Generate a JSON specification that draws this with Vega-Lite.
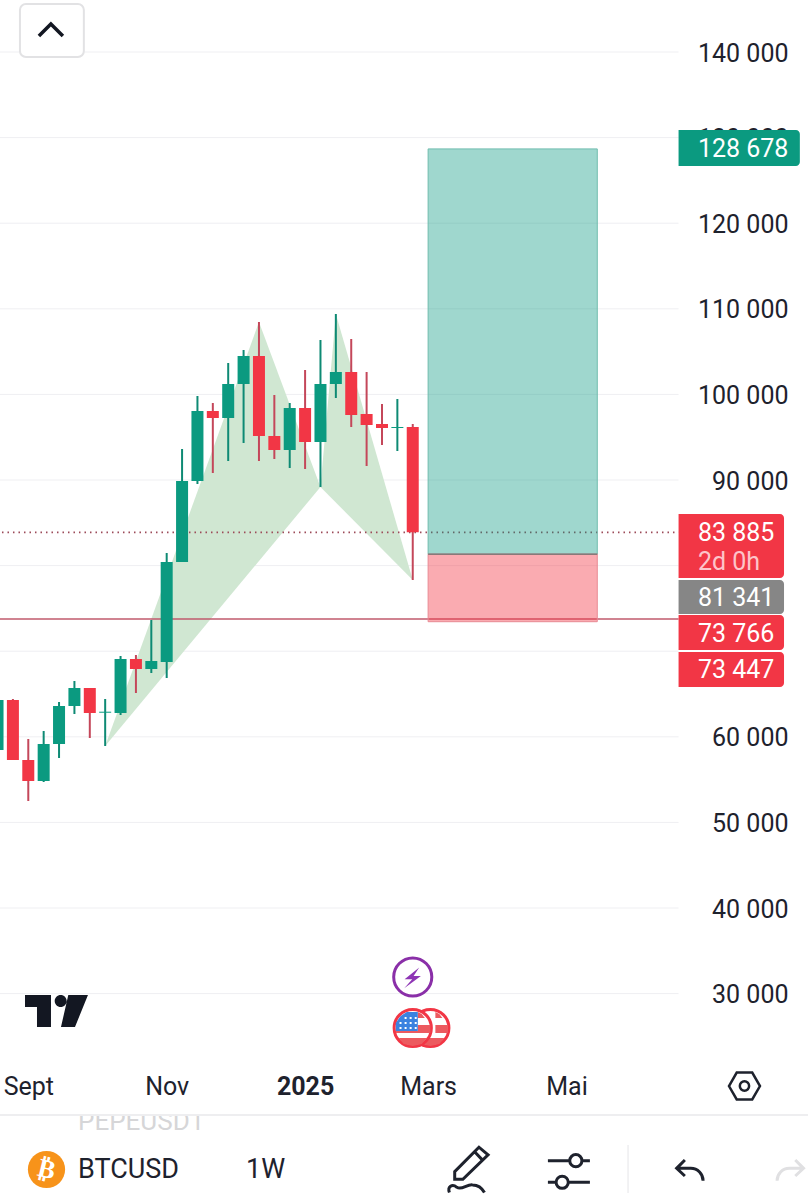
{
  "$schema": "https://vega.github.io/schema/vega-lite/v6.json",
  "width": 808,
  "height": 1200,
  "padding": 0,
  "autosize": "none",
  "background": "white",
  "view": {"stroke": null},
  "config": {"text": {"font": "Roboto"}},
  "datasets": {
    "candles": [
      {"d": "2024-08-19", "open": 58460, "close": 64301, "high": 64500, "low": 57900},
      {"d": "2024-08-26", "open": 64301, "close": 57292, "high": 64418, "low": 57292},
      {"d": "2024-09-02", "open": 57292, "close": 54839, "high": 59745, "low": 52502},
      {"d": "2024-09-09", "open": 54839, "close": 59161, "high": 60680, "low": 54722},
      {"d": "2024-09-16", "open": 59161, "close": 63600, "high": 64067, "low": 57525},
      {"d": "2024-09-23", "open": 63600, "close": 65703, "high": 66521, "low": 62666},
      {"d": "2024-09-30", "open": 65703, "close": 62782, "high": 65703, "low": 59862},
      {"d": "2024-10-07", "open": 62816, "close": 62933, "high": 64418, "low": 58927},
      {"d": "2024-10-14", "open": 62782, "close": 69091, "high": 69441, "low": 62549},
      {"d": "2024-10-21", "open": 69091, "close": 67922, "high": 69558, "low": 65119},
      {"d": "2024-10-28", "open": 67922, "close": 68857, "high": 73647, "low": 67455},
      {"d": "2024-11-04", "open": 68740, "close": 80422, "high": 81474, "low": 66871},
      {"d": "2024-11-11", "open": 80422, "close": 89885, "high": 93623, "low": 80422},
      {"d": "2024-11-18", "open": 89885, "close": 98062, "high": 99814, "low": 89534},
      {"d": "2024-11-25", "open": 98062, "close": 97244, "high": 98997, "low": 90819},
      {"d": "2024-12-02", "open": 97244, "close": 101216, "high": 103669, "low": 92221},
      {"d": "2024-12-09", "open": 101216, "close": 104487, "high": 105188, "low": 94324},
      {"d": "2024-12-16", "open": 104487, "close": 95141, "high": 108459, "low": 92221},
      {"d": "2024-12-23", "open": 95141, "close": 93506, "high": 99931, "low": 92455},
      {"d": "2024-12-30", "open": 93506, "close": 98412, "high": 98997, "low": 91403},
      {"d": "2025-01-06", "open": 98412, "close": 94441, "high": 102852, "low": 91286},
      {"d": "2025-01-13", "open": 94441, "close": 101216, "high": 106356, "low": 89184},
      {"d": "2025-01-20", "open": 101216, "close": 102618, "high": 109394, "low": 99581},
      {"d": "2025-01-27", "open": 102618, "close": 97595, "high": 106473, "low": 96193},
      {"d": "2025-02-03", "open": 97712, "close": 96426, "high": 102618, "low": 91637},
      {"d": "2025-02-10", "open": 96543, "close": 96076, "high": 98880, "low": 94090},
      {"d": "2025-02-17", "open": 96076, "close": 96193, "high": 99464, "low": 93389},
      {"d": "2025-02-24", "open": 96193, "close": 83885, "high": 96543, "low": 78319}
    ],
    "pattern": [
      {"leg": "XAB", "seq": 1, "d": "2024-10-07", "p": 58927},
      {"leg": "XAB", "seq": 2, "d": "2024-12-16", "p": 108459},
      {"leg": "XAB", "seq": 3, "d": "2025-01-13", "p": 89184},
      {"leg": "BCD", "seq": 1, "d": "2025-01-13", "p": 89184},
      {"leg": "BCD", "seq": 2, "d": "2025-01-20", "p": 109394},
      {"leg": "BCD", "seq": 3, "d": "2025-02-24", "p": 78319}
    ],
    "hgrid": [
      {"d": "2024-08-01", "d2": "2025-06-25", "p": 140000},
      {"d": "2024-08-01", "d2": "2025-06-25", "p": 130000},
      {"d": "2024-08-01", "d2": "2025-06-25", "p": 120000},
      {"d": "2024-08-01", "d2": "2025-06-25", "p": 110000},
      {"d": "2024-08-01", "d2": "2025-06-25", "p": 100000},
      {"d": "2024-08-01", "d2": "2025-06-25", "p": 90000},
      {"d": "2024-08-01", "d2": "2025-06-25", "p": 80000},
      {"d": "2024-08-01", "d2": "2025-06-25", "p": 70000},
      {"d": "2024-08-01", "d2": "2025-06-25", "p": 60000},
      {"d": "2024-08-01", "d2": "2025-06-25", "p": 50000},
      {"d": "2024-08-01", "d2": "2025-06-25", "p": 40000},
      {"d": "2024-08-01", "d2": "2025-06-25", "p": 30000}
    ],
    "vgrid": [
      {"d": "2024-09-02"}, {"d": "2024-11-04"}, {"d": "2025-01-06"}, {"d": "2025-03-03"}, {"d": "2025-05-05"}
    ],
    "tags": [
      {"kind": "up", "d": "2025-06-25", "d2": "2025-08-19T05:00:00Z", "p": 130888, "p2": 126682},
      {"kind": "down", "d": "2025-06-25", "d2": "2025-08-12", "p": 86029, "p2": 78553},
      {"kind": "mid", "d": "2025-06-25", "d2": "2025-08-12", "p": 78319, "p2": 74347},
      {"kind": "down", "d": "2025-06-25", "d2": "2025-08-12", "p": 74230, "p2": 70142},
      {"kind": "down", "d": "2025-06-25", "d2": "2025-08-12", "p": 69908, "p2": 65820}
    ],
    "tagText": [
      {"label": "128 678", "d": "2025-07-03T19:00:00Z", "p": 128669},
      {"label": "83 885", "d": "2025-07-03T19:00:00Z", "p": 83810},
      {"label": "81 341", "d": "2025-07-03T19:00:00Z", "p": 76217},
      {"label": "73 766", "d": "2025-07-03T19:00:00Z", "p": 72011},
      {"label": "73 447", "d": "2025-07-03T19:00:00Z", "p": 67805}
    ]
  },
  "encoding": {
    "x": {
      "field": "d",
      "type": "temporal",
      "scale": {"type": "utc", "domain": ["2024-08-20T03:00:00Z", "2025-08-22T22:00:00Z"], "padding": 0},
      "axis": {
        "title": null,
        "orient": "bottom",
        "offset": -126,
        "grid": false,
        "domain": false,
        "ticks": false,
        "labelPadding": 0,
        "labelFont": "Roboto",
        "labelFontSize": 25,
        "labelColor": "#1e222d",
        "labelBaseline": "top",
        "labelFlush": false,
        "labelOverlap": false,
        "values": [
          {"year": 2024, "month": 9, "date": 2, "utc": true},
          {"year": 2024, "month": 11, "date": 4, "utc": true},
          {"year": 2025, "month": 1, "date": 6, "utc": true},
          {"year": 2025, "month": 3, "date": 3, "utc": true},
          {"year": 2025, "month": 5, "date": 5, "utc": true}
        ],
        "labelExpr": "utcmonth(datum.value)==8?'Sept':utcmonth(datum.value)==10?'Nov':utcmonth(datum.value)==0?'2025':utcmonth(datum.value)==2?'Mars':'Mai'",
        "labelFontWeight": {"condition": {"test": "utcmonth(datum.value)==0", "value": "bold"}, "value": "normal"}
      }
    },
    "y": {
      "field": "p",
      "type": "quantitative",
      "scale": {"domain": [5891, 146075], "nice": false, "zero": false, "padding": 0},
      "axis": {
        "title": null,
        "orient": "right",
        "grid": false,
        "domain": false,
        "ticks": false,
        "labelPadding": -20,
        "labelOffset": 1,
        "labelAlign": "right",
        "labelFont": "Roboto",
        "labelFontSize": 25,
        "labelColor": "#1e222d",
        "labelFlush": false,
        "labelOverlap": false,
        "values": [140000, 130000, 120000, 110000, 100000, 90000, 60000, 50000, 40000, 30000],
        "labelExpr": "replace(format(datum.value, ','), ',', ' ')"
      }
    }
  },
  "layer": [
    {
      "data": {"name": "hgrid"},
      "mark": {"type": "rule", "color": "#efeff2", "strokeWidth": 1},
      "encoding": {"x2": {"field": "d2"}}
    },
    {
      "data": {"name": "vgrid"},
      "mark": {"type": "rule", "color": "#eeeef0", "strokeWidth": 1},
      "encoding": {
        "y": {"datum": 22597, "type": "quantitative"},
        "y2": {"datum": 146075}
      }
    },
    {
      "data": {"name": "pattern"},
      "mark": {"type": "line", "fill": "#d0e7d2", "stroke": null, "strokeWidth": 0},
      "encoding": {
        "detail": {"field": "leg"},
        "order": {"field": "seq", "type": "quantitative"}
      }
    },
    {
      "data": {"values": [{"d": "2024-08-01", "d2": "2025-06-25", "p": 83885}]},
      "mark": {"type": "rule", "color": "#9c4a58", "strokeWidth": 1.8, "strokeDash": [1.5, 4]},
      "encoding": {"x2": {"field": "d2"}}
    },
    {
      "data": {"values": [{"d": "2024-08-01", "d2": "2025-06-25", "p": 73766}]},
      "mark": {"type": "rule", "color": "#c05a6c", "strokeWidth": 1.5},
      "encoding": {"x2": {"field": "d2"}}
    },
    {
      "data": {"name": "candles"},
      "mark": {"type": "rule", "strokeWidth": 2},
      "encoding": {
        "y": {"field": "high", "type": "quantitative"},
        "y2": {"field": "low"},
        "color": {"condition": {"test": "datum.close >= datum.open", "value": "#0e8a74"}, "value": "#c4475a"}
      }
    },
    {
      "data": {"name": "candles"},
      "mark": {"type": "bar", "width": 12},
      "encoding": {
        "y": {"field": "open", "type": "quantitative"},
        "y2": {"field": "close"},
        "color": {"condition": {"test": "datum.close >= datum.open", "value": "#0b9a80"}, "value": "#f23645"}
      }
    },
    {
      "data": {"values": [{"d": "2025-03-03", "d2": "2025-05-19", "p": 128678, "p2": 81341}]},
      "mark": {"type": "rect", "fill": "#089981", "fillOpacity": 0.39, "stroke": "#6fbcae", "strokeWidth": 1},
      "encoding": {"x2": {"field": "d2"}, "y2": {"field": "p2"}}
    },
    {
      "data": {"values": [{"d": "2025-03-03", "d2": "2025-05-19", "p": 81341, "p2": 73447}]},
      "mark": {"type": "rect", "fill": "#f23645", "fillOpacity": 0.42, "stroke": "#e88a93", "strokeWidth": 1},
      "encoding": {"x2": {"field": "d2"}, "y2": {"field": "p2"}}
    },
    {
      "data": {"values": [{"d": "2025-03-03", "d2": "2025-05-19", "p": 81341}]},
      "mark": {"type": "rule", "color": "#5d6b68", "strokeWidth": 1},
      "encoding": {"x2": {"field": "d2"}}
    },
    {
      "data": {"name": "tags"},
      "mark": {"type": "rect", "cornerRadiusTopRight": 4, "cornerRadiusBottomRight": 4},
      "encoding": {
        "x2": {"field": "d2"},
        "y2": {"field": "p2"},
        "color": {
          "field": "kind",
          "type": "nominal",
          "legend": null,
          "scale": {"domain": ["up", "down", "mid"], "range": ["#0b9a80", "#f23645", "#868686"]}
        }
      }
    },
    {
      "data": {"name": "tagText"},
      "mark": {"type": "text", "align": "left", "baseline": "middle", "fontSize": 25, "color": "#ffffff"},
      "encoding": {"text": {"field": "label"}}
    },
    {
      "data": {"values": [{"d": "2025-07-03T19:00:00Z", "p": 80422, "label": "2d 0h"}]},
      "mark": {"type": "text", "align": "left", "baseline": "middle", "fontSize": 25, "color": "#fdc4ca"},
      "encoding": {"text": {"field": "label"}}
    },
    {
      "data": {"values": [{"d": "2024-08-29T05:00:00Z", "d2": "2024-09-27T07:00:00Z", "p": 145608, "p2": 139416}]},
      "mark": {"type": "rect", "fill": "white", "stroke": "#e2e2e4", "strokeWidth": 2, "cornerRadius": 6},
      "encoding": {"x2": {"field": "d2"}, "y2": {"field": "p2"}}
    },
    {
      "data": {"values": [{"d": "2024-09-12T07:00:00Z", "p": 142570}]},
      "mark": {"type": "point", "shape": "M-1,0.5L0,-0.5L1,0.5", "size": 576, "filled": false, "stroke": "#131722", "strokeWidth": 3.5, "opacity": 1}
    },
    {
      "data": {"values": [{"d": "2024-09-14T20:00:00Z", "p": 27970}]},
      "mark": {
        "type": "point",
        "shape": "M-0.984,-0.5L-0.172,-0.5L-0.172,0.5L-0.609,0.5L-0.609,-0.125L-0.984,-0.125ZM-0.056,-0.3125a0.1875,0.1875 0 1,0 0.375,0a0.1875,0.1875 0 1,0 -0.375,0ZM0.369,-0.5L0.984,-0.5L0.578,0.5L0.141,0.5Z",
        "size": 4096,
        "filled": true,
        "fill": "#131722",
        "strokeWidth": 0,
        "opacity": 1
      }
    },
    {
      "data": {"values": [{"d": "2025-02-24", "p": 31942}]},
      "mark": {"type": "point", "shape": "circle", "size": 1452, "filled": true, "fill": "white", "stroke": "#8a2fa8", "strokeWidth": 3, "opacity": 1}
    },
    {
      "data": {"values": [{"d": "2025-02-24", "p": 31942}]},
      "mark": {
        "type": "point",
        "shape": "M0.54,-0.8L-0.68,0.19L-0.04,0.19L-0.71,0.94L0.68,-0.08L0.07,-0.08Z",
        "size": 576,
        "filled": true,
        "fill": "#8e35b5",
        "strokeWidth": 0,
        "opacity": 1
      }
    },
    {
      "data": {"values": [{"d": "2025-03-04", "p": 25984}]},
      "mark": {"type": "point", "shape": "circle", "size": 1385, "filled": true, "fill": "white", "stroke": "#f23645", "strokeWidth": 3, "opacity": 1}
    },
    {
      "data": {"values": [{"d": "2025-03-04", "p": 25984}]},
      "mark": {
        "type": "point",
        "shape": "M0.23,-0.73L0.41,-0.64L0.55,-0.45L0.23,-0.45ZM0.23,-0.14L0.8,-0.14L0.8,0.23L0.23,0.23ZM-0.64,0.45L0.64,0.45L0.41,0.73L0,0.82L-0.41,0.73Z",
        "size": 1936,
        "filled": true,
        "fill": "#ec5a5f",
        "strokeWidth": 0,
        "opacity": 1
      }
    },
    {
      "data": {"values": [{"d": "2025-02-24", "p": 25984}]},
      "mark": {"type": "point", "shape": "circle", "size": 1385, "filled": true, "fill": "white", "stroke": "#f23645", "strokeWidth": 3, "opacity": 1}
    },
    {
      "data": {"values": [{"d": "2025-02-24", "p": 25984}]},
      "mark": {
        "type": "point",
        "shape": "M0.23,-0.73L0.41,-0.64L0.55,-0.45L0.23,-0.45ZM0.23,-0.14L0.8,-0.14L0.8,0.23L0.23,0.23ZM-0.64,0.45L0.64,0.45L0.41,0.73L0,0.82L-0.41,0.73ZM-0.77,0.23L0.23,0.23L0.23,0.14L-0.77,0.14Z",
        "size": 1936,
        "filled": true,
        "fill": "#ec5a5f",
        "strokeWidth": 0,
        "opacity": 1
      }
    },
    {
      "data": {"values": [{"d": "2025-02-24", "p": 25984}]},
      "mark": {
        "type": "point",
        "shape": "M-0.27,-0.73L0.23,-0.73L0.23,0.14L-0.77,0.14L-0.77,-0.23L-0.55,-0.55Z",
        "size": 1936,
        "filled": true,
        "fill": "#3b82e0",
        "strokeWidth": 0,
        "opacity": 1
      }
    },
    {
      "data": {"values": [{"d": "2025-02-24", "p": 25984}]},
      "mark": {
        "type": "point",
        "shape": "M-0.37,-0.5h0.09v0.09h-0.09ZM-0.14,-0.5h0.09v0.09h-0.09ZM0.09,-0.5h0.09v0.09h-0.09ZM-0.6,-0.27h0.09v0.09h-0.09ZM-0.37,-0.27h0.09v0.09h-0.09ZM-0.14,-0.27h0.09v0.09h-0.09ZM0.09,-0.27h0.09v0.09h-0.09ZM-0.6,-0.05h0.09v0.09h-0.09ZM-0.37,-0.05h0.09v0.09h-0.09ZM-0.14,-0.05h0.09v0.09h-0.09ZM0.09,-0.05h0.09v0.09h-0.09Z",
        "size": 1936,
        "filled": true,
        "fill": "white",
        "strokeWidth": 0,
        "opacity": 1
      }
    },
    {
      "data": {"values": [{"d": "2024-09-24T15:00:00Z", "p": 14945, "label": "PEPEUSD1"}]},
      "mark": {"type": "text", "align": "left", "baseline": "middle", "fontSize": 26, "color": "#d6d6d8"},
      "encoding": {"text": {"field": "label"}}
    },
    {
      "data": {"values": [{"d": "2024-08-01", "d2": "2025-08-22T22:00:00Z", "p": 16800, "p2": 15821}]},
      "mark": {"type": "rect", "fill": "white"},
      "encoding": {"x2": {"field": "d2"}, "y2": {"field": "p2"}}
    },
    {
      "data": {"values": [{"d": "2024-08-01", "d2": "2025-08-22T22:00:00Z", "p": 15821}]},
      "mark": {"type": "rule", "color": "#eeeef0", "strokeWidth": 2},
      "encoding": {"x2": {"field": "d2"}}
    },
    {
      "data": {"values": [{"d": "2025-06-02", "p": 12315, "p2": 6715}]},
      "mark": {"type": "rule", "color": "#eeeef0", "strokeWidth": 1.5},
      "encoding": {"y2": {"field": "p2"}}
    },
    {
      "data": {"values": [{"d": "2024-09-10T07:00:00Z", "p": 9455}]},
      "mark": {"type": "point", "shape": "circle", "size": 1385, "filled": true, "fill": "#f7931a", "strokeWidth": 0, "opacity": 1}
    },
    {
      "data": {"values": [{"d": "2024-09-10T07:00:00Z", "p": 9455, "label": "₿"}]},
      "mark": {"type": "text", "font": "DejaVu Sans", "fontWeight": "bold", "fontSize": 26, "angle": 14, "align": "center", "baseline": "middle", "color": "white"},
      "encoding": {"text": {"field": "label"}}
    },
    {
      "data": {"values": [
        {"d": "2024-09-24T15:00:00Z", "p": 9338, "label": "BTCUSD"},
        {"d": "2024-12-10T02:00:00Z", "p": 9338, "label": "1W"}
      ]},
      "mark": {"type": "text", "align": "left", "baseline": "middle", "fontSize": 27, "color": "#1e222d"},
      "encoding": {"text": {"field": "label"}}
    },
    {
      "data": {"values": [{"d": "2025-07-25", "p": 19208}]},
      "mark": {
        "type": "point",
        "shape": "M-1,0L-0.5,-0.87L0.5,-0.87L1,0L0.5,0.87L-0.5,0.87ZM-0.3,0a0.3,0.3 0 1,0 0.6,0a0.3,0.3 0 1,0 -0.6,0Z",
        "size": 961,
        "filled": false,
        "stroke": "#1e222d",
        "strokeWidth": 2.5,
        "opacity": 1
      }
    },
    {
      "data": {"values": [{"d": "2025-03-21", "p": 9396}]},
      "mark": {
        "type": "point",
        "shape": "M-0.54,0.07L0.47,-0.95L0.85,-0.63L-0.2,0.39L-0.54,0.39ZM0.29,-0.76L0.64,-0.39M-0.76,0.94C-0.85,0.7 -0.65,0.55 -0.45,0.72C-0.25,0.85 -0.05,0.6 0.2,0.62C0.45,0.62 0.6,0.75 0.7,0.94",
        "size": 2304,
        "filled": false,
        "stroke": "#1e222d",
        "strokeWidth": 3,
        "opacity": 1
      }
    },
    {
      "data": {"values": [{"d": "2025-05-06T02:00:00Z", "p": 9337}]},
      "mark": {
        "type": "point",
        "shape": "M-1,-0.47H0.04M0.62,-0.47H1M0.04,-0.47a0.29,0.29 0 1,0 0.58,0a0.29,0.29 0 1,0 -0.58,0ZM-1,0.56H-0.61M-0.03,0.56H1M-0.61,0.56a0.29,0.29 0 1,0 0.58,0a0.29,0.29 0 1,0 -0.58,0Z",
        "size": 1764,
        "filled": false,
        "stroke": "#1e222d",
        "strokeWidth": 3,
        "opacity": 1
      }
    },
    {
      "data": {"values": [{"d": "2025-06-29T22:00:00Z", "p": 9396}]},
      "mark": {
        "type": "point",
        "shape": "M-0.32,-0.71L-0.91,-0.12L-0.32,0.43M-0.91,-0.12L0.1,-0.12C0.6,-0.12 0.98,0.3 0.98,0.76",
        "size": 784,
        "filled": false,
        "stroke": "#1e222d",
        "strokeWidth": 3,
        "opacity": 1
      }
    },
    {
      "data": {"values": [{"d": "2025-08-15T02:00:00Z", "p": 9396}]},
      "mark": {
        "type": "point",
        "shape": "M0.32,-0.71L0.91,-0.12L0.32,0.43M0.91,-0.12L-0.1,-0.12C-0.6,-0.12 -0.98,0.3 -0.98,0.76",
        "size": 784,
        "filled": false,
        "stroke": "#e0e0e2",
        "strokeWidth": 3,
        "opacity": 1
      }
    }
  ]
}
